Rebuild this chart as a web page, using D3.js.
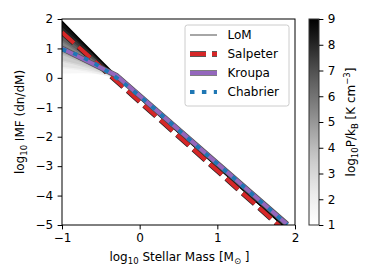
<!DOCTYPE html>
<html>
<head>
<meta charset="utf-8">
<script src="https://cdn.jsdelivr.net/npm/d3@7"></script>
<style>
  body { margin: 0; background: #fff; }
  text { font-family: "DejaVu Sans", sans-serif; }
</style>
</head>
<body>
<svg id="chart" width="374" height="280"></svg>
<script>
// log10 stellar mass sample points shared by the curves
const massGrid = [-1, -0.75, -0.5, -0.3, -0.15, 0, 0.5, 1, 1.5, 1.85];

// LoM curves, one per log10 P/kB
const lomPressures = [1, 2, 3, 4, 5, 6, 7, 8, 9];
const lomCurves = [
  [0.12, 0.13, 0.08, -0.04, -0.28, -0.62, -1.80, -2.97, -4.15, -4.97],
  [0.35, 0.27, 0.14, -0.03, -0.28, -0.63, -1.80, -2.98, -4.15, -4.98],
  [0.57, 0.41, 0.21, -0.02, -0.28, -0.63, -1.81, -2.98, -4.16, -4.98],
  [0.80, 0.55, 0.27, -0.01, -0.29, -0.64, -1.82, -2.99, -4.17, -4.99],
  [1.02, 0.69, 0.34, 0.01, -0.29, -0.65, -1.83, -3.00, -4.18, -5.00],
  [1.25, 0.83, 0.40, 0.02, -0.29, -0.66, -1.84, -3.01, -4.19, -5.01],
  [1.47, 0.97, 0.46, 0.03, -0.30, -0.66, -1.84, -3.01, -4.19, -5.01],
  [1.70, 1.11, 0.53, 0.05, -0.30, -0.67, -1.85, -3.02, -4.20, -5.02],
  [1.92, 1.25, 0.59, 0.06, -0.30, -0.68, -1.86, -3.03, -4.21, -5.03]
];

// reference IMFs
const salpeterMass = [-1, 1.8];
const salpeterImf = [1.55, -5.03];
const kroupaMass = [-1, -0.3, 1.9];
const kroupaImf = [1.0, 0.08, -4.98];
const chabrierMass = [-1, -0.75, -0.5, -0.25, 0, 0.5, 1, 1.5, 1.9];
const chabrierImf = [0.97, 0.72, 0.36, -0.09, -0.62, -1.77, -2.92, -4.07, -4.99];

const xTicks = [-1, 0, 1, 2];
const yTicks = [-5, -4, -3, -2, -1, 0, 1, 2];
const cbTicks = [1, 2, 3, 4, 5, 6, 7, 8, 9];
const legendNames = ["LoM", "Salpeter", "Kroupa", "Chabrier"];

const FS = 12;
const svg = d3.select("#chart");
const M = { left: 62, right: 295, top: 19, bottom: 225 };

const x = d3.scaleLinear().domain([-1, 2]).range([M.left, M.right]);
const y = d3.scaleLinear().domain([-5, 2]).range([M.bottom, M.top]);
const grey = d3.scaleSequential(d3.interpolateGreys).domain([1, 9]);

svg.append("clipPath").attr("id", "plotclip")
  .append("rect")
  .attr("x", M.left).attr("y", M.top)
  .attr("width", M.right - M.left).attr("height", M.bottom - M.top);

const plot = svg.append("g").attr("clip-path", "url(#plotclip)");

const smooth = d3.line().x(d => x(d[0])).y(d => y(d[1])).curve(d3.curveMonotoneX);
const straight = d3.line().x(d => x(d[0])).y(d => y(d[1]));
const pairs = (xs, ys) => xs.map((v, i) => [v, ys[i]]);

// shaded bands between neighbouring LoM curves (stand in for the dense line family)
const band = d3.area()
  .x(d => x(d.m))
  .y0(d => y(d.lo))
  .y1(d => y(d.hi))
  .curve(d3.curveMonotoneX);

for (let i = 0; i < lomCurves.length - 1; i++) {
  const rows = massGrid.map((m, j) => ({ m, lo: lomCurves[i][j], hi: lomCurves[i + 1][j] }));
  plot.append("path")
    .attr("d", band(rows))
    .attr("fill", grey((lomPressures[i] + lomPressures[i + 1]) / 2))
    .attr("stroke", "none");
}

lomCurves.forEach((c, i) => {
  plot.append("path")
    .attr("d", smooth(pairs(massGrid, c)))
    .attr("fill", "none")
    .attr("stroke", grey(lomPressures[i]))
    .attr("stroke-width", 1.5);
});

// reference lines, with a dark outline like matplotlib path effects
function refLine(g, gen, pts, color, dash, outline) {
  if (outline) {
    g.append("path").attr("d", gen(pts))
      .attr("fill", "none").attr("stroke", outline)
      .attr("stroke-width", 5.5).attr("stroke-dasharray", dash);
  }
  g.append("path").attr("d", gen(pts))
    .attr("fill", "none").attr("stroke", color)
    .attr("stroke-width", 4).attr("stroke-dasharray", dash);
}

refLine(plot, straight, pairs(salpeterMass, salpeterImf), "#d62728", "16,6", "#222");
refLine(plot, straight, pairs(kroupaMass, kroupaImf), "#9467bd", null, "#555");
refLine(plot, smooth, pairs(chabrierMass, chabrierImf), "#1f77b4", "4.5,7.4", null);

// axes
const fmt = d3.format("d");
const xAxis = svg.append("g").attr("transform", `translate(0,${M.bottom})`)
  .call(d3.axisBottom(x).tickValues(xTicks).tickFormat(fmt).tickSize(4.4).tickPadding(4.4));
const yAxis = svg.append("g").attr("transform", `translate(${M.left},0)`)
  .call(d3.axisLeft(y).tickValues(yTicks).tickFormat(fmt).tickSize(4.4).tickPadding(4.4));
[xAxis, yAxis].forEach(a => {
  a.select(".domain").remove();
  a.selectAll("line").attr("stroke", "#000").attr("stroke-width", 1);
  a.selectAll("text").attr("font-size", FS).attr("fill", "#000")
    .attr("font-family", "DejaVu Sans, sans-serif");
});

svg.append("rect")
  .attr("x", M.left).attr("y", M.top)
  .attr("width", M.right - M.left).attr("height", M.bottom - M.top)
  .attr("fill", "none").attr("stroke", "#000").attr("stroke-width", 1);

// axis labels
const sub = 8.5;
const xl = svg.append("text").attr("x", (M.left + M.right) / 2 + 1).attr("y", 261)
  .attr("text-anchor", "middle").attr("font-size", FS);
xl.append("tspan").text("log");
xl.append("tspan").attr("font-size", sub).attr("dy", 2.5).text("10");
xl.append("tspan").attr("dy", -2.5).text(" Stellar Mass [M");
xl.append("tspan").attr("font-size", sub).attr("dy", 2.5).text("\u2299");
xl.append("tspan").attr("dy", -2.5).text(" ]");

const yl = svg.append("text")
  .attr("transform", `translate(24,${(M.top + M.bottom) / 2}) rotate(-90)`)
  .attr("text-anchor", "middle").attr("font-size", FS);
yl.append("tspan").text("log");
yl.append("tspan").attr("font-size", sub).attr("dy", 2.5).text("10");
yl.append("tspan").attr("dy", -2.5).text(" IMF (dn/dM)");

// legend
const lg = svg.append("g");
lg.append("rect").attr("x", 185).attr("y", 25).attr("width", 104).attr("height", 81)
  .attr("rx", 2.5).attr("fill", "#fff").attr("fill-opacity", 0.8)
  .attr("stroke", "#ccc").attr("stroke-width", 1);
const legendStyles = [
  { color: "#888", dash: null, outline: null, w: 1.5 },
  { color: "#d62728", dash: "16,6", outline: "#222", w: 4 },
  { color: "#9467bd", dash: null, outline: "#555", w: 4 },
  { color: "#1f77b4", dash: "4.5,7.4", outline: null, w: 4 }
];
legendNames.forEach((name, i) => {
  const ly = 35 + i * 19;
  const s = legendStyles[i];
  if (s.outline) {
    lg.append("line").attr("x1", 190).attr("x2", 217).attr("y1", ly).attr("y2", ly)
      .attr("stroke", s.outline).attr("stroke-width", s.w + 1.5).attr("stroke-dasharray", s.dash);
  }
  lg.append("line").attr("x1", 190).attr("x2", 217).attr("y1", ly).attr("y2", ly)
    .attr("stroke", s.color).attr("stroke-width", s.w).attr("stroke-dasharray", s.dash);
  lg.append("text").attr("x", 227.5).attr("y", ly + 4.3).attr("font-size", FS).text(name);
});

// colorbar
const cb = { x0: 309, x1: 319 };
const cy = d3.scaleLinear().domain([1, 9]).range([M.bottom, M.top]);
const grad = svg.append("defs").append("linearGradient").attr("id", "cbgrad")
  .attr("x1", 0).attr("y1", 1).attr("x2", 0).attr("y2", 0);
d3.range(0, 1.0001, 0.05).forEach(t => {
  grad.append("stop").attr("offset", t).attr("stop-color", d3.interpolateGreys(t));
});
svg.append("rect").attr("x", cb.x0).attr("y", M.top)
  .attr("width", cb.x1 - cb.x0).attr("height", M.bottom - M.top)
  .attr("fill", "url(#cbgrad)").attr("stroke", "#333").attr("stroke-width", 1);
const cbAxis = svg.append("g").attr("transform", `translate(${cb.x1},0)`)
  .call(d3.axisRight(cy).tickValues(cbTicks).tickFormat(fmt).tickSize(4.4).tickPadding(4.4));
cbAxis.select(".domain").remove();
cbAxis.selectAll("line").attr("stroke", "#000").attr("stroke-width", 1);
cbAxis.selectAll("text").attr("font-size", FS).attr("fill", "#000")
  .attr("font-family", "DejaVu Sans, sans-serif");

const cl = svg.append("text")
  .attr("transform", `translate(355,${(M.top + M.bottom) / 2}) rotate(-90)`)
  .attr("text-anchor", "middle").attr("font-size", FS);
cl.append("tspan").text("log");
cl.append("tspan").attr("font-size", sub).attr("dy", 2.5).text("10");
cl.append("tspan").attr("dy", -2.5).text("P/k");
cl.append("tspan").attr("font-size", sub).attr("dy", 2.5).text("B");
cl.append("tspan").attr("dy", -2.5).text(" [K cm");
cl.append("tspan").attr("font-size", sub).attr("dy", -5).text("\u22123");
cl.append("tspan").attr("dy", 5).text("]");
</script>
</body>
</html>
